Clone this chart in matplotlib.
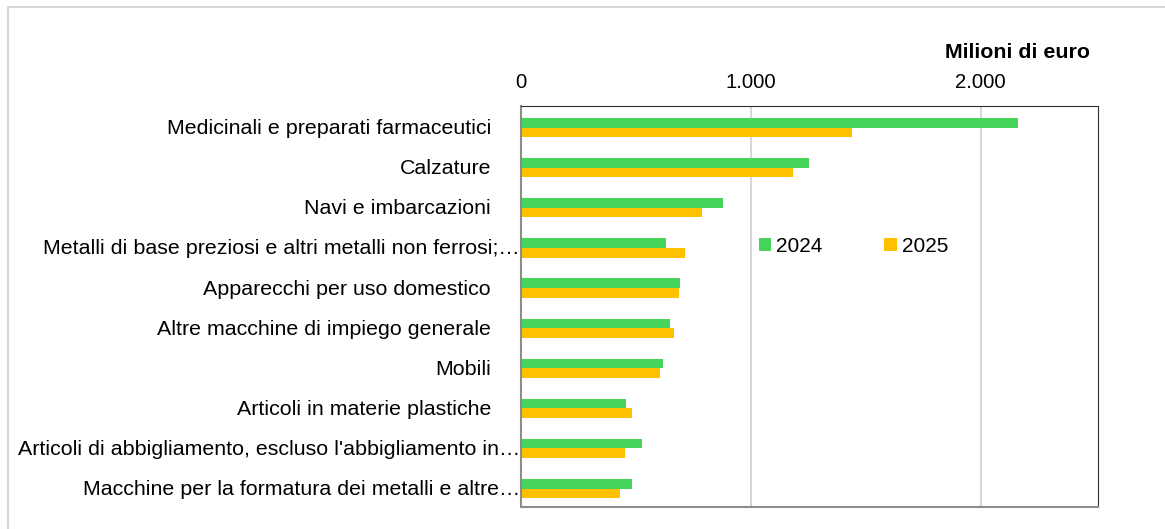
import matplotlib.pyplot as plt
import matplotlib.transforms as mtransforms
from matplotlib.lines import Line2D
import numpy as np

# Dati (milioni di euro)
categorie = [
    "Medicinali e preparati farmaceutici",
    "Calzature",
    "Navi e imbarcazioni",
    "Metalli di base preziosi e altri metalli non ferrosi;\u2026",
    "Apparecchi per uso domestico",
    "Altre macchine di impiego generale",
    "Mobili",
    "Articoli in materie plastiche",
    "Articoli di abbigliamento, escluso l'abbigliamento in\u2026",
    "Macchine per la formatura dei metalli e altre\u2026",
]
valori_2024 = [2162, 1252, 878, 630, 691, 647, 616, 456, 528, 482]
valori_2025 = [1440, 1183, 786, 714, 687, 664, 604, 481, 451, 432]
anni = ["2024", "2025"]

verde = "#47D45A"
giallo = "#FFC000"
fs = 15.4

plt.rcParams["font.family"] = ["Liberation Sans", "DejaVu Sans"]

fig = plt.figure(figsize=(11.65, 5.29), dpi=100)
W, H = 1165, 529
ax = fig.add_axes([521 / W, 1 - 507 / H, (1098 - 521) / W, (507 - 106) / H])

y = np.arange(len(categorie))
h = 0.24
ax.barh(y - h / 2, valori_2024, height=h, color=verde, label=anni[0])
ax.barh(y + h / 2, valori_2025, height=h, color=giallo, label=anni[1])

ax.set_xlim(0, 2510)
ax.set_ylim(len(categorie) - 0.54, -0.54)
ax.set_xticks([0, 1000, 2000])
ax.set_xticklabels(["0", "1.000", "2.000"], fontsize=14.6)
ax.xaxis.tick_top()
ax.tick_params(axis="x", length=0, pad=10)
ax.set_yticks([])
ax.grid(axis="x", color="#d0d0d0", linewidth=1.2)
ax.set_axisbelow(True)

for lato in ["top", "right"]:
    ax.spines[lato].set_color("#303030")
for lato in ["left", "bottom"]:
    ax.spines[lato].set_color("#8c8c8c")
    ax.spines[lato].set_linewidth(1.5)

# Etichette delle categorie
for i, testo in enumerate(categorie):
    troncata = testo.endswith("\u2026")
    dx = -1 if troncata else -30
    trans = mtransforms.offset_copy(ax.get_yaxis_transform(), fig=fig, x=dx, y=-1, units="dots")
    ax.text(0, i, testo, transform=trans, ha="right", va="center", fontsize=fs)

ax.legend(loc="center left", bbox_to_anchor=(0.412, 0.65), ncol=2, frameon=False,
          fontsize=15, handlelength=0.6, handleheight=0.6, handletextpad=0.25,
          columnspacing=2.95, borderaxespad=0, borderpad=0)

fig.text(1090 / W, 1 - 53 / H, "Milioni di euro", ha="right", va="center",
         fontsize=fs, fontweight="bold")

# Cornice esterna
fig.add_artist(Line2D([8 / W, 1], [1 - 7 / H, 1 - 7 / H], transform=fig.transFigure,
                      color="#d9d9d9", linewidth=1.5))
fig.add_artist(Line2D([8 / W, 8 / W], [0, 1 - 7 / H], transform=fig.transFigure,
                      color="#d9d9d9", linewidth=1.5))

plt.savefig("out.png", dpi=100)
